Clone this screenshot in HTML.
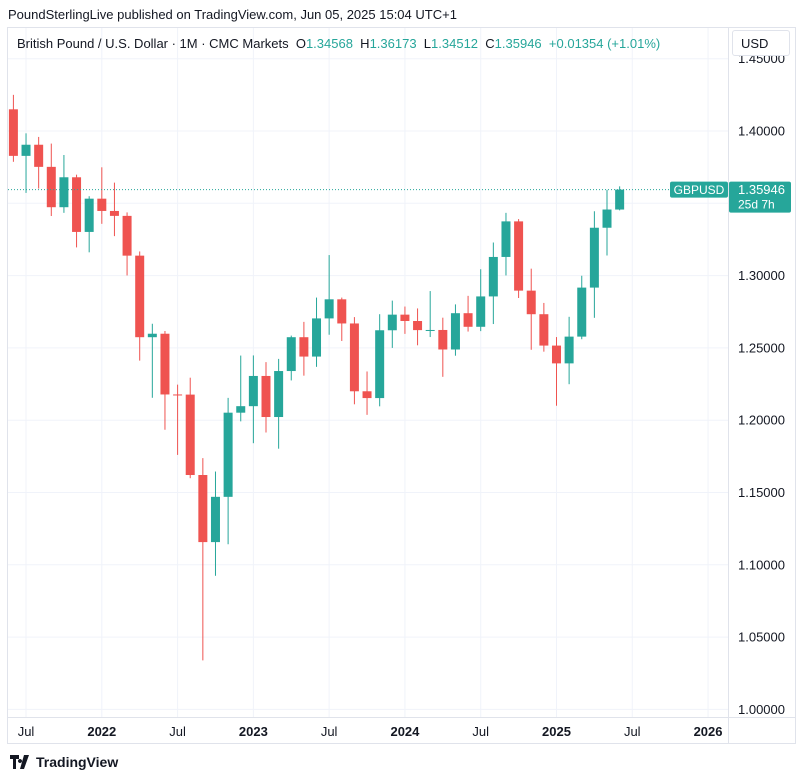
<!DOCTYPE html>
<html><head><meta charset="utf-8">
<style>
body{margin:0;background:#fff;width:806px;height:780px;overflow:hidden;font-family:"Liberation Sans",sans-serif;color:#131722}
#hdr{position:absolute;left:8px;top:7px;font-size:13px}
#frame{position:absolute;left:7px;top:27px;width:789px;height:717px;border:1px solid #e0e3eb;box-sizing:border-box}
#legend{position:absolute;left:17px;top:36px;font-size:13px}
.g{color:#26a69a}
#usd{position:absolute;left:732px;top:30px;width:58px;height:26px;border:1px solid #e0e3eb;border-radius:3px;background:#fff;font-size:13px;line-height:26px;padding-left:8px;box-sizing:border-box}
#foot{position:absolute;left:10px;top:754px;font-size:14px;font-weight:bold;display:flex;align-items:center;gap:4px}
</style></head><body>
<div id="hdr">PoundSterlingLive published on TradingView.com, Jun 05, 2025 15:04 UTC+1</div>
<div id="frame"></div>
<svg id="chart" width="806" height="780" style="position:absolute;left:0;top:0"></svg>
<div id="legend">British Pound / U.S. Dollar · 1M · CMC Markets&nbsp; O<span class="g">1.34568</span>&nbsp; H<span class="g">1.36173</span>&nbsp; L<span class="g">1.34512</span>&nbsp; C<span class="g">1.35946</span>&nbsp; <span class="g">+0.01354 (+1.01%)</span></div>
<div id="usd">USD</div>
<div id="foot"><svg width="22" height="14" viewBox="0 0 22 14"><path d="M0 0h9v4H6v10H3V4H0z M10 4a2 2 0 1 0 0.01 0z M14 0h5l-5 14h-4z" fill="#131722"/></svg><span style="font-weight:600">TradingView</span></div>
<script>
const months=["2021-06","2021-07","2021-08","2021-09","2021-10","2021-11","2021-12","2022-01","2022-02","2022-03","2022-04","2022-05","2022-06","2022-07","2022-08","2022-09","2022-10","2022-11","2022-12","2023-01","2023-02","2023-03","2023-04","2023-05","2023-06","2023-07","2023-08","2023-09","2023-10","2023-11","2023-12","2024-01","2024-02","2024-03","2024-04","2024-05","2024-06","2024-07","2024-08","2024-09","2024-10","2024-11","2024-12","2025-01","2025-02","2025-03","2025-04","2025-05","2025-06"];
const opens=[1.4150,1.3828,1.3905,1.3752,1.3473,1.3680,1.3302,1.3532,1.3447,1.3413,1.3138,1.2574,1.2598,1.2178,1.2177,1.1621,1.1157,1.1470,1.2052,1.2097,1.2306,1.2022,1.2340,1.2574,1.2440,1.2704,1.2836,1.2669,1.2200,1.2153,1.2622,1.2730,1.2686,1.2623,1.2624,1.2489,1.2740,1.2646,1.2856,1.3129,1.3375,1.2896,1.2733,1.2516,1.2393,1.2578,1.2917,1.3331,1.34568];
const highs=[1.4250,1.3984,1.3959,1.3913,1.3834,1.3698,1.3549,1.3749,1.3643,1.3437,1.3167,1.2667,1.2617,1.2246,1.2294,1.1738,1.1645,1.2154,1.2447,1.2448,1.2402,1.2424,1.2585,1.2680,1.2848,1.3142,1.2848,1.2713,1.2337,1.2733,1.2827,1.2786,1.2773,1.2893,1.2709,1.2801,1.2860,1.3044,1.3229,1.3434,1.3391,1.3048,1.2811,1.2575,1.2715,1.2999,1.3445,1.3593,1.36173];
const lows=[1.3787,1.3572,1.3602,1.3412,1.3434,1.3195,1.3161,1.3358,1.3273,1.3001,1.2412,1.2155,1.1934,1.1760,1.1599,1.0339,1.0924,1.1142,1.1992,1.1841,1.1915,1.1803,1.2275,1.2308,1.2369,1.2591,1.2548,1.2110,1.2037,1.2096,1.2500,1.2597,1.2518,1.2575,1.2300,1.2446,1.2613,1.2616,1.2665,1.3001,1.2845,1.2487,1.2474,1.2100,1.2249,1.2560,1.2708,1.3139,1.34512];
const closes=[1.3828,1.3905,1.3752,1.3473,1.3680,1.3302,1.3532,1.3447,1.3413,1.3138,1.2574,1.2598,1.2178,1.2177,1.1621,1.1157,1.1470,1.2052,1.2097,1.2306,1.2022,1.2340,1.2574,1.2440,1.2704,1.2836,1.2669,1.2200,1.2153,1.2622,1.2730,1.2686,1.2623,1.2624,1.2489,1.2740,1.2646,1.2856,1.3129,1.3375,1.2896,1.2733,1.2516,1.2393,1.2578,1.2917,1.3331,1.3457,1.35946];
const priceTicks=[1.45,1.40,1.35,1.30,1.25,1.20,1.15,1.10,1.05,1.00];
const timeLabels=["Jul","2022","Jul","2023","Jul","2024","Jul","2025","Jul","2026"];
const timeLabelIdx=[1,7,13,19,25,31,37,43,49,55];
const NS="http://www.w3.org/2000/svg",svg=document.getElementById('chart');
const x=i=>13.4+i*12.63, y=p=>131+(1.4-p)*1446;
function mk(t,a,parent){const e=document.createElementNS(NS,t);for(const k in a)e.setAttribute(k,a[k]);(parent||svg).appendChild(e);return e;}
const clip=mk('clipPath',{id:'pc'});mk('rect',{x:8,y:28,width:720,height:689},clip);
const grid=mk('g',{});
priceTicks.forEach(p=>{const l=mk('line',{x1:8,x2:728,y1:y(p),y2:y(p),stroke:'#f0f3fa'},grid);
 const t=mk('text',{x:738,y:y(p)+4.5,'font-size':13,fill:'#131722'});t.textContent=p.toFixed(5);
 });
timeLabels.forEach((s,k)=>{const xx=x(timeLabelIdx[k]);mk('line',{x1:xx,x2:xx,y1:28,y2:717,stroke:'#f0f3fa'},grid);
 const t=mk('text',{x:xx,y:736,'font-size':13,'text-anchor':'middle',fill:'#131722','font-weight':/^\d/.test(s)?'bold':'normal'});t.textContent=s;
 });
mk('line',{x1:728.5,x2:728.5,y1:28,y2:744,stroke:'#e0e3eb'});
mk('line',{x1:8,x2:796,y1:717.5,y2:717.5,stroke:'#e0e3eb'});
const cg=mk('g',{'clip-path':'url(#pc)'});
months.forEach((m,i)=>{const up=closes[i]>=opens[i],c=up?'#26a69a':'#ef5350',xx=x(i);
 const g=mk('g',{},cg);
 
 
 mk('line',{x1:xx,x2:xx,y1:y(highs[i]),y2:y(lows[i]),stroke:c,'stroke-width':1},g);
 const t=y(Math.max(opens[i],closes[i])),b=y(Math.min(opens[i],closes[i]));
 mk('rect',{x:xx-4.5,y:t,width:9,height:Math.max(1,b-t),fill:c},g);});
const last=closes[closes.length-1],ly=y(last);
const pl=mk('line',{x1:8,x2:670,y1:ly,y2:ly,stroke:'#26a69a','stroke-dasharray':'1 2'});

mk('rect',{x:670,y:ly-8,width:58,height:16,fill:'#26a69a',rx:2});
const sl=mk('text',{x:699,y:ly+4.5,'font-size':12,fill:'#fff','text-anchor':'middle'});sl.textContent='GBPUSD';

mk('rect',{x:729,y:ly-8,width:62,height:31,fill:'#26a69a',rx:2});
const pt=mk('text',{x:738,y:ly+4.5,'font-size':13,fill:'#fff'});pt.textContent=last.toFixed(5);

const ct=mk('text',{x:738,y:ly+19,'font-size':12,fill:'#fff'});ct.textContent='25d 7h';

</script>
</body></html>
